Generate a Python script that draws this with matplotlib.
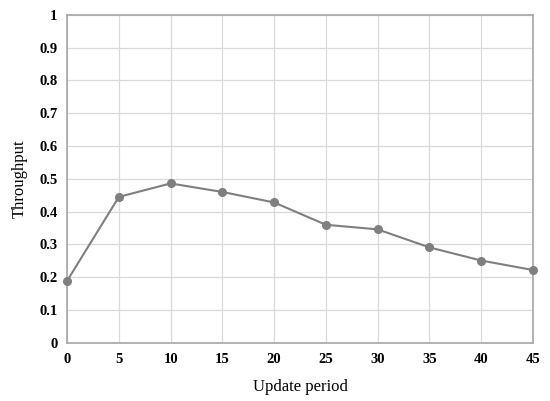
import matplotlib
matplotlib.use("Agg")
import matplotlib.pyplot as plt

update_period = [0, 5, 10, 15, 20, 25, 30, 35, 40, 45]
throughput = [0.189, 0.445, 0.486, 0.46, 0.428, 0.36, 0.346, 0.291, 0.251, 0.222]
y_ticks = [0, 0.1, 0.2, 0.3, 0.4, 0.5, 0.6, 0.7, 0.8, 0.9, 1]
y_tick_labels = ["0", "0.1", "0.2", "0.3", "0.4", "0.5", "0.6", "0.7", "0.8", "0.9", "1"]

plt.rcParams['font.family'] = ['Liberation Serif', 'DejaVu Serif']

fig = plt.figure(figsize=(5.5, 4.01), dpi=100)
ax = fig.add_axes([0.122, 0.145, 0.847, 0.818])

ax.plot(update_period, throughput, color='#7f7f7f', linewidth=1.5,
        marker='o', markersize=5.5, zorder=3, clip_on=False)

ax.set_xlim(0, 45)
ax.set_ylim(0, 1)
ax.set_xticks(update_period)
ax.set_yticks(y_ticks)
ax.set_yticklabels(y_tick_labels)
for lab in ax.get_xticklabels() + ax.get_yticklabels():
    lab.set_fontweight('bold')
    lab.set_fontsize(10.5)
ax.tick_params(length=0, pad=7)
ax.grid(True, color='#d9d9d9', linewidth=0.9)
ax.set_axisbelow(True)
for s in ax.spines.values():
    s.set_color('#a6a6a6')
    s.set_linewidth(1.2)

ax.set_xlabel('Update period', fontsize=12, labelpad=10)
ax.set_ylabel('Throughput', fontsize=12, labelpad=8)

fig.savefig('out.png', dpi=100)
